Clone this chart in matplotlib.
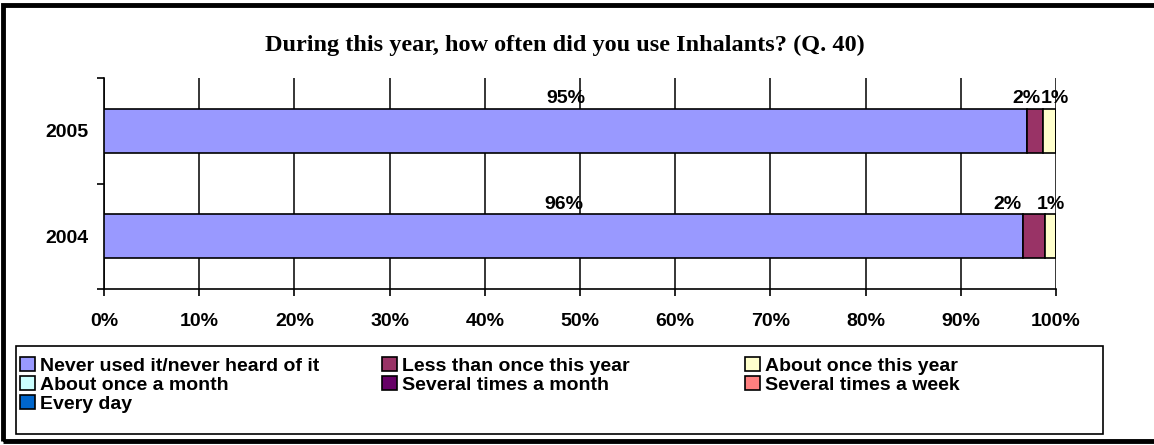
import matplotlib.pyplot as plt
import numpy as np
from matplotlib.patches import Rectangle

# answer categories (legend order) and their colours
categories = [
    "Never used it/never heard of it",
    "Less than once this year",
    "About once this year",
    "About once a month",
    "Several times a month",
    "Several times a week",
    "Every day",
]
colors = ["#9999FF", "#993366", "#FFFFCC", "#CCFFFF", "#660066", "#FF8080", "#0066CC"]

years = ["2004", "2005"]
# percent of respondents per category, per year
values_2004 = [96.0, 2.3, 1.1, 0.0, 0.0, 0.0, 0.0]
values_2005 = [95.0, 1.65, 1.3, 0.0, 0.0, 0.0, 0.0]
x_ticks = [0, 10, 20, 30, 40, 50, 60, 70, 80, 90, 100]

plt.rcParams["font.family"] = ["Liberation Sans", "DejaVu Sans"]
plt.rcParams["font.weight"] = "bold"

W, H = 1154, 445


def main():
    data = np.array([values_2004, values_2005])
    shares = data / data.sum(axis=1, keepdims=True) * 100

    fig = plt.figure(figsize=(W / 100, H / 100), dpi=100)
    ax = fig.add_axes([104 / W, 1 - 289 / H, 952 / W, 211 / H])

    # label nudges (points) so the small labels don't collide
    nudges = {(1, 1): -6.5, (0, 1): -19.5, (1, 2): 3.5}

    y = np.arange(len(years))
    left = np.zeros(len(years))
    handles = []
    for k, (name, col) in enumerate(zip(categories, colors)):
        bars = ax.barh(y, shares[:, k], left=left, height=0.42, color=col,
                       edgecolor="black", linewidth=1.2, label=name, zorder=3)
        handles.append(bars)
        for i in range(len(years)):
            if data[i, k] <= 0:
                continue
            cx = left[i] + shares[i, k] / 2
            ax.annotate(f"{data[i, k]:.0f}%", (cx, y[i] + 0.21),
                        xytext=(nudges.get((i, k), 0), 1), textcoords="offset points",
                        ha="center", va="bottom", fontsize=14,
                        fontweight="bold", zorder=5)
        left += shares[:, k]

    ax.set_xlim(0, 100)
    ax.set_ylim(-0.5, 1.5)
    ax.set_xticks(x_ticks)
    ax.set_xticklabels([f"{t}%" for t in x_ticks], fontsize=14, fontweight="bold")
    ax.tick_params(axis="x", direction="out", length=5, width=1.2, pad=12)

    ax.set_yticks([-0.5, 0.5, 1.5])
    ax.set_yticklabels([])
    ax.tick_params(axis="y", which="major", direction="out", length=5, width=1.2)
    ax.set_yticks(y, minor=True)
    ax.set_yticklabels(years, minor=True, fontsize=14, fontweight="bold")
    ax.tick_params(axis="y", which="minor", length=0, pad=11)

    ax.grid(axis="x", color="black", linewidth=1.1, zorder=0)
    ax.set_axisbelow(True)
    for side in ["top", "right"]:
        ax.spines[side].set_visible(False)
    for side in ["left", "bottom"]:
        ax.spines[side].set_linewidth(1.2)

    fig.text(565 / W, 1 - 45 / H, "During this year, how often did you use Inhalants? (Q. 40)",
             ha="center", va="center", fontsize=17.5, fontweight="bold",
             family=["Liberation Serif", "DejaVu Serif"])

    # legend: Excel lays it out in equal-width columns, filled row by row
    col_x = [20, 382, 745]
    for c, x0 in enumerate(col_x):
        idx = list(range(c, len(categories), 3))
        fig.legend([handles[i] for i in idx], [categories[i] for i in idx],
                   loc="upper left", bbox_to_anchor=(x0 / W, 1 - 357 / H),
                   prop={"weight": "bold", "size": 14}, frameon=False,
                   handlelength=0.75, handleheight=0.75, handletextpad=0.3,
                   labelspacing=0.05, borderpad=0, borderaxespad=0)
    fig.add_artist(Rectangle((16 / W, 1 - 434 / H), 1087 / W, 88 / H,
                             transform=fig.transFigure, fill=False,
                             edgecolor="black", linewidth=1.2))

    # thick outer frame of the chart
    fig.add_artist(Rectangle((2.5 / W, 4 / H), 1.2, 1 - 9 / H,
                             transform=fig.transFigure, fill=False,
                             edgecolor="black", linewidth=3.5))

    fig.savefig("out.png", dpi=100)


if __name__ == "__main__":
    main()
